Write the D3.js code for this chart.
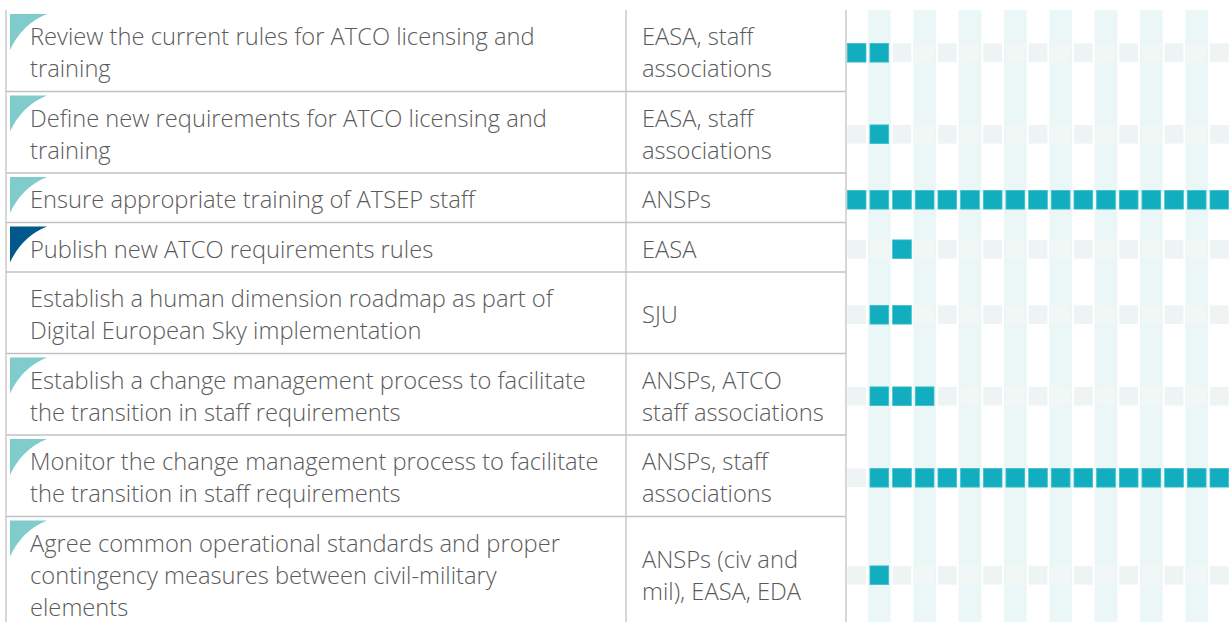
<!DOCTYPE html>
<html>
<head>
<meta charset="utf-8">
<script src="https://cdn.jsdelivr.net/npm/d3@7"></script>
<style>
  html, body { margin: 0; padding: 0; background: #fff; }
  svg { display: block; }
  text { font-family: "Open Sans", sans-serif; font-weight: 300; fill: #5a5a5a; }
</style>
</head>
<body>
<svg id="chart" width="1229" height="622"></svg>
<script>
// ---------- data ----------
const tasks = [
  ["Review the current rules for ATCO licensing and", "training"],
  ["Define new requirements for ATCO licensing and", "training"],
  ["Ensure appropriate training of ATSEP staff"],
  ["Publish new ATCO requirements rules"],
  ["Establish a human dimension roadmap as part of", "Digital European Sky implementation"],
  ["Establish a change management process to facilitate", "the transition in staff requirements"],
  ["Monitor the change management process to facilitate", "the transition in staff requirements"],
  ["Agree common operational standards and proper", "contingency measures between civil-military", "elements"]
];
const stakeholders = [
  ["EASA, staff", "associations"],
  ["EASA, staff", "associations"],
  ["ANSPs"],
  ["EASA"],
  ["SJU"],
  ["ANSPs, ATCO", "staff associations"],
  ["ANSPs, staff", "associations"],
  ["ANSPs (civ and", "mil), EASA, EDA"]
];
// marker type at the top-left corner of each task cell
const markers = ["light", "light", "light", "dark", "none", "light", "light", "light"];
// time periods (17 columns in the timeline)
const periods = d3.range(17);
// active periods per task (first and last period index, inclusive)
const activeStart = [0, 1, 0, 2, 1, 1, 1, 1];
const activeEnd   = [1, 1, 16, 2, 2, 3, 16, 1];

// ---------- layout ----------
const W = 1229, H = 622;
const svg = d3.select("#chart");
const tableLeft = 6, tableTop = 10;
const col2X = 626, col3X = 846;
const lineH = 32, fontSize = 23.7;

const nLines = tasks.map((t, i) => Math.max(t.length, stakeholders[i].length));
const rowH = nLines.map(n => n * lineH + 17.5);
const rowTop = [];
nLines.forEach((n, i) => rowTop.push(i === 0 ? tableTop : rowTop[i - 1] + rowH[i - 1]));
const rowBottom = rowTop.map((t, i) => t + rowH[i]);

const step = 22.67;
const x = d3.scaleBand()
  .domain(periods)
  .range([col3X - 0.7, col3X - 0.7 + periods.length * step])
  .paddingInner(0.175)
  .paddingOuter(0.0875);
const st = x.step();

// ---------- timeline background bands ----------
svg.append("g").selectAll("rect")
  .data(periods.filter(p => p % 2 === 1))
  .join("rect")
  .attr("x", p => x(p) - (st - x.bandwidth()) / 2)
  .attr("y", tableTop)
  .attr("width", st)
  .attr("height", H - tableTop)
  .attr("fill", "#ebf6f7");

// ---------- grid lines ----------
const lines = svg.append("g").attr("stroke", "#c2c2c2").attr("stroke-width", 1.3);
[tableLeft, col2X, col3X].forEach(xv => {
  lines.append("line").attr("x1", xv).attr("x2", xv).attr("y1", tableTop).attr("y2", H);
});
rowBottom.forEach(yv => {
  lines.append("line").attr("x1", tableLeft).attr("x2", col3X).attr("y1", yv).attr("y2", yv);
});

// ---------- rows ----------
const rows = svg.append("g").selectAll("g.row")
  .data(tasks.map((t, i) => ({ t, s: stakeholders[i], m: markers[i], i })))
  .join("g").attr("class", "row");

// corner markers
rows.filter(d => d.m !== "none")
  .append("path")
  .attr("d", d => {
    const x0 = 10, y0 = rowTop[d.i] + 4;
    return `M${x0},${y0} L${x0 + 37},${y0} Q${x0 + 12},${y0 + 10} ${x0},${y0 + 36} Z`;
  })
  .attr("fill", d => d.m === "dark" ? "#00588b" : "#80cccc");

function addLines(sel, key, xPos) {
  sel.append("text")
    .attr("x", xPos)
    .attr("font-size", fontSize)
    .selectAll("tspan")
    .data(d => d[key].map((line, j) => ({ line, j, n: d[key].length, i: d.i })))
    .join("tspan")
    .attr("x", xPos)
    .attr("y", e => rowTop[e.i] + rowH[e.i] / 2 + (e.j - (e.n - 1) / 2) * lineH + 10.5)
    .text(e => e.line);
}
addLines(rows, "t", 30);
addLines(rows, "s", 642);

// timeline squares
const sq = x.bandwidth();
rows.each(function (d) {
  const g = d3.select(this);
  const cy = rowTop[d.i] + rowH[d.i] / 2 + 2;
  g.selectAll("rect.cell")
    .data(periods)
    .join("rect")
    .attr("class", "cell")
    .attr("x", p => x(p))
    .attr("y", cy - sq / 2)
    .attr("width", sq)
    .attr("height", sq)
    .attr("fill", p => (p >= activeStart[d.i] && p <= activeEnd[d.i]) ? "#12aebf" :
      (p % 2 === 1 ? "#f1f7f4" : "#eef4f3"))
    .attr("stroke", p => (p >= activeStart[d.i] && p <= activeEnd[d.i]) ? "#3fc0cc" : "none")
    .attr("stroke-width", 0.8);
});
</script>
</body>
</html>
